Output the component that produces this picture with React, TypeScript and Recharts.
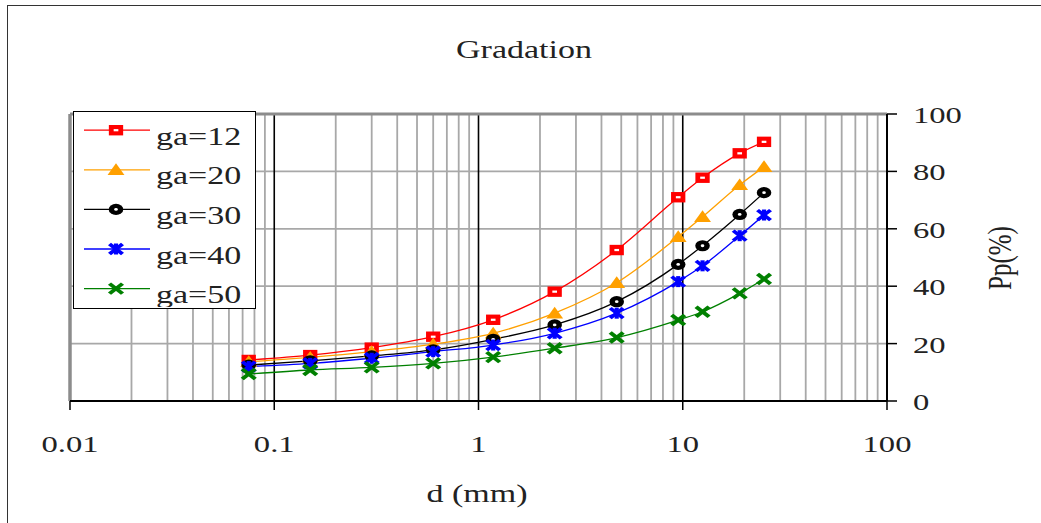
import React from 'react';
import { LineChart, Line, XAxis, YAxis, ReferenceLine, Legend } from 'recharts';

// sieve sizes (mm) and percent passing per gradation
const SIEVE = [0.075, 0.15, 0.3, 0.6, 1.18, 2.36, 4.75, 9.5, 12.5, 19, 25];
const GA12 = [14.3, 16.0, 18.6, 22.4, 28.3, 38.1, 52.6, 71.0, 77.8, 86.3, 90.3];
const GA20 = [13.7, 15.2, 17.2, 19.8, 23.6, 30.6, 41.2, 57.2, 64.2, 75.3, 81.6];
const GA30 = [12.5, 14.0, 15.7, 17.8, 21.5, 26.5, 34.6, 47.6, 54.1, 65.0, 72.6];
const GA40 = [12.0, 13.1, 14.9, 17.2, 19.5, 23.6, 30.6, 41.6, 47.1, 57.6, 64.8];
const GA50 = [9.4, 10.8, 11.7, 13.1, 15.3, 18.4, 22.1, 28.2, 31.1, 37.5, 42.5];

const X_TICKS = [0.01, 0.1, 1, 10, 100];
const Y_TICKS = [0, 20, 40, 60, 80, 100];
const MAJOR = [0.1, 1, 10];
const H_GRID = [20, 40, 60, 80];
const MINOR: number[] = [];
[0.01, 0.1, 1, 10].forEach((dec) => {
  for (let k = 2; k <= 9; k++) MINOR.push(+(k * dec).toPrecision(3));
});

const SERIES = [
  { key: 'ga12', name: 'ga=12', color: '#ff0000', kind: 'square', values: GA12 },
  { key: 'ga20', name: 'ga=20', color: '#ffa000', kind: 'triangle', values: GA20 },
  { key: 'ga30', name: 'ga=30', color: '#000000', kind: 'circle', values: GA30 },
  { key: 'ga40', name: 'ga=40', color: '#0000ff', kind: 'star', values: GA40 },
  { key: 'ga50', name: 'ga=50', color: '#008000', kind: 'cross', values: GA50 },
];

const data = SIEVE.map((d, i) => {
  const row: Record<string, number> = { d };
  SERIES.forEach((s) => (row[s.key] = s.values[i]));
  return row;
});

const FONT = '"Liberation Serif", "Times New Roman", serif';
const SX = 1.36; // source image is stretched horizontally
const TXT = '#222';

const Marker = ({ kind, cx, cy, color }: any) => {
  if (cx == null || cy == null) return null;
  let shape;
  if (kind === 'square') {
    shape = (
      <>
        <rect x={-5.5} y={-5.2} width={11} height={10.4} fill={color} />
        <rect x={-1.8} y={-1.1} width={3.6} height={2.2} fill="#fff" />
      </>
    );
  } else if (kind === 'triangle') {
    shape = <polygon points="0,-6.5 6.5,5.2 -6.5,5.2" fill={color} />;
  } else if (kind === 'circle') {
    shape = (
      <>
        <circle r={5.6} fill={color} />
        <circle r={1.4} fill="#fff" />
      </>
    );
  } else if (kind === 'star') {
    shape = (
      <g stroke={color} strokeWidth={3.2}>
        <line x1={-5} y1={-5} x2={5} y2={5} />
        <line x1={-5} y1={5} x2={5} y2={-5} />
        <line x1={0} y1={-5.5} x2={0} y2={5.5} />
      </g>
    );
  } else {
    shape = (
      <g stroke={color} strokeWidth={3.4}>
        <line x1={-5} y1={-5} x2={5} y2={5} />
        <line x1={-5} y1={5} x2={5} y2={-5} />
      </g>
    );
  }
  return <g transform={`translate(${cx},${cy}) scale(1.3,1)`}>{shape}</g>;
};

const XTick = ({ x, y, payload }: any) => (
  <text
    transform={`translate(${x},${y + 40}) scale(${SX},1)`}
    textAnchor="middle"
    fontFamily={FONT}
    fontSize={24}
    fill={TXT}
  >
    {String(payload.value)}
  </text>
);

const YTick = ({ x, y, payload }: any) => (
  <text
    transform={`translate(${x},${y + 9}) scale(${SX},1)`}
    textAnchor="start"
    fontFamily={FONT}
    fontSize={24}
    fill={TXT}
  >
    {String(payload.value)}
  </text>
);

const renderLegend = () => (
  <svg width={180} height={195} style={{ display: 'block' }}>
    {SERIES.map((s, i) => {
      const y = 18.2 + i * 39.6;
      return (
        <g key={s.key}>
          <line x1={10} x2={76} y1={y} y2={y} stroke={s.color} strokeWidth={1.3} />
          <Marker kind={s.kind} cx={42} cy={y} color={s.color} />
          <text
            transform={`translate(82,${y + 14.5}) scale(${SX},1)`}
            fontFamily={FONT}
            fontSize={25}
            fill={TXT}
          >
            {s.name}
          </text>
        </g>
      );
    })}
  </svg>
);

export default function App() {
  return (
    <div
      style={{
        position: 'absolute',
        left: 0,
        top: 0,
        width: 1041,
        height: 523,
        overflow: 'hidden',
        background: '#fff',
      }}
    >
      <div
        style={{
          position: 'absolute',
          left: 7,
          top: 5,
          width: 1100,
          height: 600,
          borderLeft: '1.5px solid #333',
          borderTop: '1.5px solid #333',
        }}
      />
      <div style={{ position: 'absolute', left: 0, top: 0 }}>
        <LineChart
          width={1041}
          height={523}
          data={data}
          margin={{ top: 114, left: 70, right: 94, bottom: 82 }}
        >
          <XAxis
            dataKey="d"
            type="number"
            scale="log"
            domain={[0.01, 100]}
            ticks={X_TICKS}
            allowDataOverflow
            height={40}
            tickSize={9}
            axisLine={{ stroke: '#000', strokeWidth: 2 }}
            tickLine={{ stroke: '#000', strokeWidth: 1.5 }}
            tick={<XTick />}
          />
          <YAxis
            orientation="right"
            type="number"
            domain={[0, 100]}
            ticks={Y_TICKS}
            width={60}
            tickSize={10}
            tickMargin={16}
            axisLine={{ stroke: '#000', strokeWidth: 2 }}
            tickLine={{ stroke: '#000', strokeWidth: 1.5 }}
            tick={<YTick />}
          />
          {MINOR.map((v) => (
            <ReferenceLine key={'m' + v} x={v} stroke="#a8a8a8" strokeWidth={1.8} />
          ))}
          {H_GRID.map((v) => (
            <ReferenceLine key={'h' + v} y={v} stroke="#a8a8a8" strokeWidth={1.8} />
          ))}
          {MAJOR.map((v) => (
            <ReferenceLine key={'M' + v} x={v} stroke="#000" strokeWidth={1.6} />
          ))}
          <ReferenceLine y={100} stroke="#8c8c8c" strokeWidth={3} />
          <ReferenceLine x={0.01} stroke="#8c8c8c" strokeWidth={3.5} />
          {SERIES.map((s) => (
            <Line
              key={s.key}
              dataKey={s.key}
              name={s.name}
              type="monotone"
              stroke={s.color}
              strokeWidth={1.3}
              isAnimationActive={false}
              dot={(p: any) => (
                <Marker key={s.key + p.index} kind={s.kind} cx={p.cx} cy={p.cy} color={s.color} />
              )}
              activeDot={false}
            />
          ))}
          <Legend
            layout="horizontal"
            align="center"
            verticalAlign="middle"
            content={renderLegend}
            wrapperStyle={{
              left: 73,
              top: 111,
              width: 183,
              height: 198,
              border: '1.5px solid #000',
              background: '#fff',
              boxSizing: 'border-box',
            }}
          />
        </LineChart>
      </div>
      <svg
        width={1041}
        height={523}
        style={{ position: 'absolute', left: 0, top: 0, pointerEvents: 'none' }}
      >
        <text
          transform={`translate(524,58) scale(${SX},1)`}
          textAnchor="middle"
          fontFamily={FONT}
          fontSize={25}
          fill={TXT}
        >
          Gradation
        </text>
        <text
          transform={`translate(477,502) scale(${SX},1)`}
          textAnchor="middle"
          fontFamily={FONT}
          fontSize={25}
          fill={TXT}
        >
          d (mm)
        </text>
        <text
          transform={`translate(1011,258) rotate(-90) scale(1,${SX})`}
          textAnchor="middle"
          fontFamily={FONT}
          fontSize={25}
          fill={TXT}
        >
          Pp(%)
        </text>
      </svg>
    </div>
  );
}
